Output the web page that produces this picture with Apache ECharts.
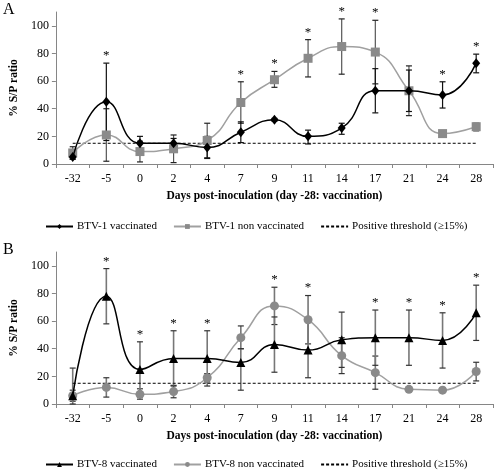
<!DOCTYPE html>
<html><head><meta charset="utf-8">
<script src="https://cdn.jsdelivr.net/npm/echarts@6/dist/echarts.min.js"></script>
<style>html,body{margin:0;padding:0;background:#fff}#c{width:497px;height:472px}</style>
</head><body><div id="c"></div>
<script>
const days = ['-32','-5','0','2','4','7','9','11','14','17','21','24','28'];
const yTicks = [0,20,40,60,80,100];
// Panel A
const vac1 = [5,45,15,15,12,23,32,20,26,53,53,50,73];
const vac1Low = [3.5,17,10,11.5,4,15.5,31,14.5,21.5,37,38,40.5,66];
const vac1High = [7,73,20,18.5,20,30.5,33,24.5,29.5,69,68,59.5,79.5];
const non1 = [8,21,9,11,17,44.5,61,76.5,85,81,53,22,27];
const non1Low = [3.5,2,1.5,1,4.5,29.5,55.5,63,65,58,35,21,24];
const non1High = [12.5,40,16.5,21,29.5,59.5,67,90,105,104,71,23.5,29.5];
const sigA = ['-5','7','9','11','14','17','24','28'];
// Panel B
const vac8 = [6,78,25,33,33,30,43,39,46.5,48,48,46,66];
const vac8Low = [0,58,5,13,13,10,23,19,26.5,28,28,26,46];
const vac8High = [26,98,45,53,53,40,63,59,66.5,68,68,66,86];
const non8 = [6,12,7,9,19,48,71,61,35,22.7,10.6,10,23.5];
const non8Low = [2,5,3.5,4.5,16,40,57.5,43.5,22,10.7,9,8.5,16.7];
const non8High = [10,19,11,13.5,22,56.5,84.5,78.5,48,34.7,12.5,11.5,30.2];
const sigB = ['-5','0','2','4','9','11','17','21','24','28'];
const threshold = 15;
const thresholdName = 'Positive threshold (≥15%)';

const FONT = '"Liberation Serif","Times New Roman",serif';

function errData(low, high){ return days.map((d,i)=>[i, low[i], high[i]]); }
function errRender(barColor, capColor, bw){
  return function(params, api){
    const lo = api.coord([api.value(0), api.value(1)]);
    const hi = api.coord([api.value(0), api.value(2)]);
    const w = 3;
    return {type:'group', children:[
      {type:'line', shape:{x1:lo[0],y1:lo[1],x2:hi[0],y2:hi[1]}, style:{stroke:barColor,lineWidth:bw}},
      {type:'line', shape:{x1:lo[0]-w,y1:lo[1],x2:lo[0]+w,y2:lo[1]}, style:{stroke:capColor,lineWidth:1.2}},
      {type:'line', shape:{x1:hi[0]-w,y1:hi[1],x2:hi[0]+w,y2:hi[1]}, style:{stroke:capColor,lineWidth:1.2}}
    ]};
  };
}
function sigData(sig, h1, h2){
  return sig.map(d=>{const i=days.indexOf(d); return [i, Math.max(h1[i], h2[i])];});
}
function sigRender(params, api){
  const p = api.coord([api.value(0), api.value(1)]);
  return {type:'text', x:p[0], y:p[1]-1, style:{text:'*', fill:'#000', font:'13px '+FONT, align:'center', verticalAlign:'bottom'}};
}

const chart = echarts.init(document.getElementById('c'), null, {renderer:'canvas'});
function xAxisCfg(gi){
  return {type:'category', gridIndex:gi, data:days, boundaryGap:true,
    axisLine:{lineStyle:{color:'#868686',width:1}},
    axisTick:{show:true, length:4, lineStyle:{color:'#868686'}},
    axisLabel:{color:'#000', fontFamily:FONT, fontSize:12, margin:9},
    name:'Days post-inoculation (day -28: vaccination)', nameLocation:'middle', nameGap:26,
    nameTextStyle:{color:'#000', fontFamily:FONT, fontSize:11.5, fontWeight:'bold'}};
}
function yAxisCfg(gi){
  return {type:'value', gridIndex:gi, min:0, max:110, interval:20,
    splitLine:{show:false},
    axisLine:{show:true, lineStyle:{color:'#868686',width:1}},
    axisTick:{show:true, length:4, lineStyle:{color:'#868686'}, customValues:yTicks},
    axisLabel:{color:'#000', fontFamily:FONT, fontSize:12, margin:7, customValues:yTicks},
    name:'% S/P ratio', nameLocation:'middle', nameRotate:90, nameGap:31,
    nameTextStyle:{color:'#000', fontFamily:FONT, fontSize:11.5, fontWeight:'bold'}};
}
const legendText = {color:'#000', fontFamily:FONT, fontSize:11, padding:[0,0,0,-1]};
const threshLegend = {name:thresholdName, itemStyle:{opacity:0}};
function legendCfg(names, top){
  return {data:[names[0], names[1], threshLegend], left:40, top:top, width:457,
    itemWidth:27, itemHeight:6, itemGap:16, textStyle:legendText};
}
const blackLine = {color:'#000', width:1.5};
const grayLine = {color:'#a0a0a0', width:1.5};
const option = {
  animation:false,
  backgroundColor:'#fff',
  graphic:[
    {type:'text', left:3, top:2, style:{text:'A', font:'16px '+FONT, fill:'#000'}},
    {type:'text', left:3, top:242, style:{text:'B', font:'16px '+FONT, fill:'#000'}}
  ],
  grid:[
    {left:53, top:12, width:440, height:152},
    {left:53, top:252, width:440, height:152}
  ],
  xAxis:[xAxisCfg(0), xAxisCfg(1)],
  yAxis:[yAxisCfg(0), yAxisCfg(1)],
  legend:[
    legendCfg(['BTV-1 vaccinated','BTV-1 non vaccinated'], 216),
    legendCfg(['BTV-8 vaccinated','BTV-8 non vaccinated'], 454)
  ],
  series:[
    {type:'custom', xAxisIndex:0, yAxisIndex:0, data:errData(non1Low,non1High), renderItem:errRender('#555','#222',1.2), z:1, silent:true},
    {type:'custom', xAxisIndex:0, yAxisIndex:0, data:errData(vac1Low,vac1High), renderItem:errRender('#111','#111',1.2), z:1, silent:true},
    {name:thresholdName, type:'line', xAxisIndex:0, yAxisIndex:0, data:days.map(()=>threshold), symbol:'none',
     lineStyle:{color:'#000', width:1, type:[3,2]}, itemStyle:{color:'#000'}, z:2},
    {name:'BTV-1 non vaccinated', type:'line', xAxisIndex:0, yAxisIndex:0, data:non1, smooth:0.5, symbol:'rect', symbolSize:9,
     lineStyle:grayLine, itemStyle:{color:'#8a8a8a'}, z:3},
    {name:'BTV-1 vaccinated', type:'line', xAxisIndex:0, yAxisIndex:0, data:vac1, smooth:0.5, symbol:'diamond', symbolSize:[8,10],
     lineStyle:blackLine, itemStyle:{color:'#000'}, z:4},
    {type:'custom', xAxisIndex:0, yAxisIndex:0, data:sigData(sigA,vac1High,non1High), renderItem:sigRender, clip:false, z:5, silent:true},

    {type:'custom', xAxisIndex:1, yAxisIndex:1, data:errData(non8Low,non8High), renderItem:errRender('#777','#333',1.6), z:1, silent:true},
    {type:'custom', xAxisIndex:1, yAxisIndex:1, data:errData(vac8Low,vac8High), renderItem:errRender('#777','#333',1.6), z:1, silent:true},
    {name:thresholdName, type:'line', xAxisIndex:1, yAxisIndex:1, data:days.map(()=>threshold), symbol:'none',
     lineStyle:{color:'#000', width:1, type:[3,2]}, itemStyle:{color:'#000'}, z:2},
    {name:'BTV-8 non vaccinated', type:'line', xAxisIndex:1, yAxisIndex:1, data:non8, smooth:0.5, symbol:'circle', symbolSize:9,
     lineStyle:grayLine, itemStyle:{color:'#8a8a8a'}, z:3},
    {name:'BTV-8 vaccinated', type:'line', xAxisIndex:1, yAxisIndex:1, data:vac8, smooth:0.5, symbol:'triangle', symbolSize:9,
     lineStyle:blackLine, itemStyle:{color:'#000'}, z:4},
    {type:'custom', xAxisIndex:1, yAxisIndex:1, data:sigData(sigB,vac8High,non8High), renderItem:sigRender, clip:false, z:5, silent:true}
  ]
};
chart.setOption(option);
</script></body></html>
